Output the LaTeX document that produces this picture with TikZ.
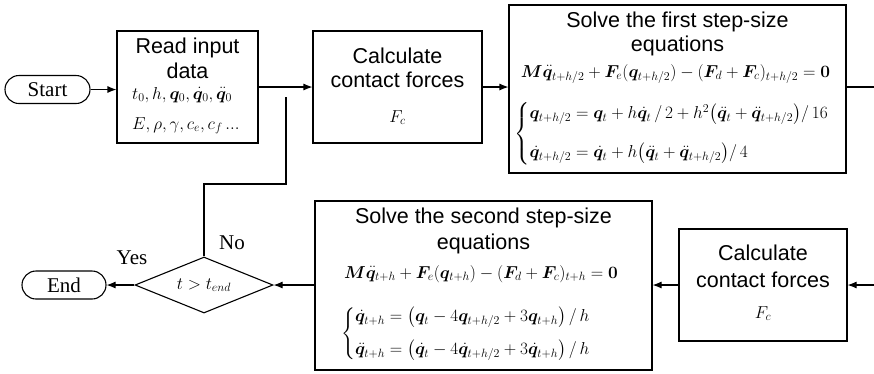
\documentclass[tikz,border=0pt]{standalone}
\usepackage{amsmath}
\usepackage{fontspec}
\setmainfont{Liberation Serif}
\setsansfont{Liberation Sans}
\usepackage{bm}
\usetikzlibrary{arrows.meta,shapes.geometric}
\begin{document}
\begin{tikzpicture}[x=1pt,y=-1pt,
  box/.style={draw, line width=1.1pt, inner sep=0pt},
  term/.style={draw, line width=1.1pt, rounded corners=14pt, inner sep=0pt, minimum height=28pt, font=\fontsize{21}{24}\selectfont},
  ttl/.style={font=\sffamily\fontsize{21.5}{24}\selectfont, anchor=base, inner sep=0pt},
  mth/.style={font=\fontsize{18.5}{22}\selectfont, inner sep=0pt},
  rmth/.style={font=\fontsize{18}{22}\selectfont, inner sep=0pt, anchor=base west},
  smth/.style={font=\fontsize{18}{21}\selectfont, inner sep=0pt, anchor=base},
  lbl/.style={font=\fontsize{21}{24}\selectfont, inner sep=0pt},
  conn/.style={line width=1.1pt},
  arr/.style={conn, -{Latex[length=9pt,width=7pt]}},
]
\useasboundingbox (0,0) rectangle (874,373);
\clip (0,0) rectangle (874,373);

% top row
\node[term, minimum width=85pt] (start) at (47.5,89.5) {Start};

\node[box, minimum width=141pt, minimum height=112pt] (read) at (187.5,87) {};
\node[ttl] (readt1) at (187.5,53) {Read input};
\node[ttl] (readt2) at (187.5,78) {data};
\node[rmth] (readm1) at (132,99) {$t_0, h, \bm q_0, \dot{\bm q}_0, \ddot{\bm q}_0$};
\node[rmth] (readm2) at (132,129) {$E, \rho, \gamma, c_e, c_f\mathinner{\ldotp\!\ldotp\!\ldotp}$};

\node[box, minimum width=169pt, minimum height=112pt] (calc1) at (397.5,87) {};
\node[ttl] (calc1t1) at (397.5,63) {Calculate};
\node[ttl] (calc1t2) at (397.5,87) {contact forces};
\node[smth] (calc1m) at (397.5,122) {$F_c$};

\node[box, minimum width=337pt, minimum height=168pt] (solve1) at (677.5,89) {};
\node[ttl] (s1t1) at (677.5,27) {Solve the first step-size};
\node[ttl] (s1t2) at (677.5,51) {equations};
\node[mth, anchor=base] (s1eq) at (675.5,77) {$\bm M\ddot{\bm q}_{t+h/2} + \bm F_e(\bm q_{t+h/2}) - (\bm F_d + \bm F_c)_{t+h/2} = \bm 0$};
\node[mth, anchor=west] (s1sys) at (514,134) {$\left\{\begin{array}{@{}l@{}}
  \bm q_{t+h/2} = \bm q_t + h\dot{\bm q}_t\,/\,2 + h^2\bigl(\ddot{\bm q}_t + \ddot{\bm q}_{t+h/2}\bigr)/\,16\\[17pt]
  \dot{\bm q}_{t+h/2} = \dot{\bm q}_t + h\bigl(\ddot{\bm q}_t + \ddot{\bm q}_{t+h/2}\bigr)/\,4
  \end{array}\right.$};

% bottom row
\node[box, minimum width=168pt, minimum height=112pt] (calc2) at (763,285) {};
\node[ttl] (calc2t1) at (763,260) {Calculate};
\node[ttl] (calc2t2) at (763,287) {contact forces};
\node[smth] (calc2m) at (763,318) {$F_c$};

\node[box, minimum width=337pt, minimum height=169pt] (solve2) at (483.5,285.5) {};
\node[ttl] (s2t1) at (483.5,223) {Solve the second step-size};
\node[ttl] (s2t2) at (483.5,249) {equations};
\node[mth, anchor=base] (s2eq) at (481,278) {$\bm M\ddot{\bm q}_{t+h} + \bm F_e(\bm q_{t+h}) - (\bm F_d + \bm F_c)_{t+h} = \bm 0$};
\node[mth, anchor=west] (s2sys) at (341,334) {$\left\{\begin{array}{@{}l@{}}
  \dot{\bm q}_{t+h} = \bigl(\bm q_t - 4\bm q_{t+h/2} + 3\bm q_{t+h}\bigr)\,/\,h\\[11pt]
  \ddot{\bm q}_{t+h} = \bigl(\dot{\bm q}_t - 4\dot{\bm q}_{t+h/2} + 3\dot{\bm q}_{t+h}\bigr)\,/\,h
  \end{array}\right.$};

\node[draw, line width=1.1pt, shape=diamond, aspect=2.46, inner sep=0pt, minimum width=138pt, minimum height=56pt, font=\fontsize{17}{20}\selectfont] (dia) at (204,285) {$t > t_{end}$};

\node[term, minimum width=84pt] (end) at (64,285) {End};

\node[lbl] (yes) at (132,258) {Yes};
\node[lbl] (no) at (232,243) {No};

% connectors
\draw[arr] (start.east) -- (start.east -| read.west);
\draw[arr] (read.east) -- (calc1.west);
\draw[arr] (calc1.east) -- (calc1.east -| solve1.west);
\coordinate (rt) at (886,87);
\draw[arr] (solve1.east |- rt) -- (rt) |- (calc2.east);
\draw[arr] (calc2.west) -- (calc2.west -| solve2.east);
\draw[arr] (solve2.west |- dia.east) -- (dia.east);
\draw[arr] (dia.west) -- (end.east);
\coordinate (lp1) at (286,184);
\coordinate (lp2) at (286,97);
\draw[conn] (dia.north) |- (lp1) -- (lp2);
\end{tikzpicture}
\end{document}
